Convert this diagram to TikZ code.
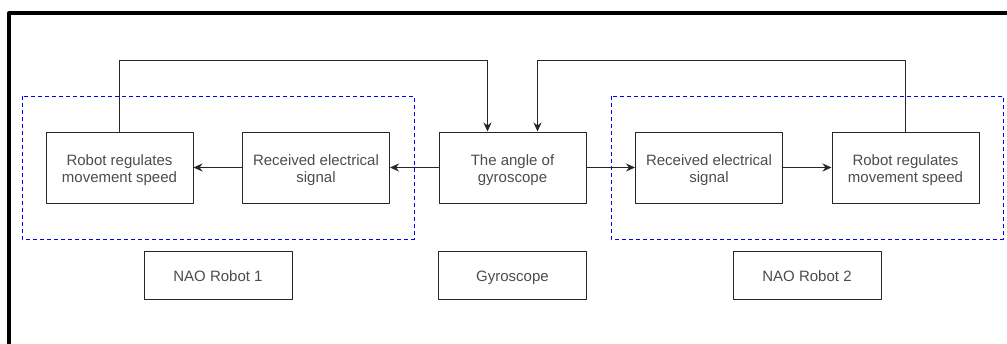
\documentclass[tikz,border=0pt]{standalone}
\usepackage{fontspec}
\setmainfont{Liberation Sans}
\usepackage{xcolor}
\usetikzlibrary{arrows.meta,calc}
\tikzset{
  >={Stealth[length=9pt,width=8pt]},
  every picture/.style={line cap=round,line join=round},
  block/.style={draw=black!85, line width=1pt, minimum width=147pt, minimum height=71pt,
    inner sep=0pt, text=black!70, font=\fontsize{15}{17}\selectfont},
  tag/.style={block, minimum width=148pt, minimum height=48pt},
  robotgroup/.style={draw=blue, line width=0.9pt, dash pattern=on 4pt off 3pt, line cap=butt},
  link/.style={draw=black!85, line width=1pt},
}
% text set a little lower than TikZ would centre it
\newcommand{\boxtext}[1]{\raisebox{-3pt}[\height][\depth]{\begin{tabular}{@{}c@{}}#1\end{tabular}}}

\begin{document}
\begin{tikzpicture}[x=1pt,y=-1pt]
    \useasboundingbox (0,0) rectangle (1007,343);
    % outer frame
    \draw[line width=4pt, line cap=butt] (9,346) -- (9,13) -- (1010,13);
    % robot groups
    \draw[robotgroup] (22,96) rectangle (414,239);
    \draw[robotgroup] (611,96) rectangle (1003,239);
    % blocks
    \node[block] (lrobot) at (119.5,167.5) {\boxtext{Robot regulates\\movement speed}};
    \node[block] (lrecv)  at (316,167.5)   {\boxtext{Received electrical\\signal}};
    \node[block] (gyro)   at (512.5,167.5) {\boxtext{The angle of\\gyroscope}};
    \node[block] (rrecv)  at (709,167.5)   {\boxtext{Received electrical\\signal}};
    \node[block] (rrobot) at (905.5,167.5) {\boxtext{Robot regulates\\movement speed}};
    % labels below
    \node[tag] (nao1)  at (218,275)   {\boxtext{NAO Robot 1}};
    \node[tag] (gyrol) at (512.5,275) {\boxtext{Gyroscope}};
    \node[tag] (nao2)  at (807,275)   {\boxtext{NAO Robot 2}};
    % signal flow
    \draw[link,->] (gyro) -- (lrecv);
    \draw[link,->] (lrecv) -- (lrobot);
    \draw[link,->] (gyro) -- (rrecv);
    \draw[link,->] (rrecv) -- (rrobot);
    % feedback
    \draw[link,->] (lrobot.north) -- ++(0,-71) -| ([xshift=-25pt]gyro.north);
    \draw[link,->] (rrobot.north) -- ++(0,-71) -| ([xshift=25pt]gyro.north);
\end{tikzpicture}
\end{document}
